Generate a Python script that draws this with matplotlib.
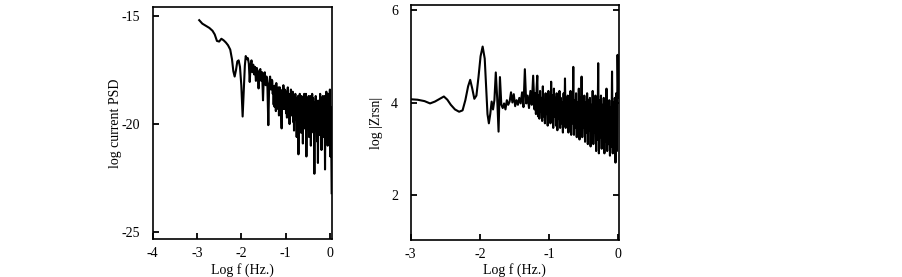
import numpy as np
import matplotlib
matplotlib.use('Agg')
import matplotlib.pyplot as plt

plt.rcParams['font.family'] = ['Liberation Serif', 'DejaVu Serif']
plt.rcParams['axes.unicode_minus'] = False

# left panel: log current PSD vs log f (low-frequency part)
psd_x_low = [-2.95, -2.88, -2.80, -2.72, -2.65, -2.60, -2.55, -2.50, -2.45, -2.40,
             -2.35, -2.30, -2.25, -2.21, -2.18, -2.15, -2.12, -2.09, -2.06, -2.03,
             -2.00, -1.97, -1.94, -1.92, -1.90, -1.87, -1.85, -1.83, -1.81, -1.79,
             -1.77, -1.75, -1.73, -1.71, -1.69, -1.67, -1.65, -1.63, -1.61, -1.59,
             -1.57, -1.55, -1.53, -1.51, -1.49, -1.47, -1.45, -1.43, -1.41, -1.39,
             -1.37, -1.35, -1.33, -1.31]
psd_y_low = [-15.19, -15.35, -15.45, -15.55, -15.68, -15.85, -16.15, -16.18, -16.05, -16.12,
             -16.22, -16.35, -16.55, -17.00, -17.55, -17.80, -17.50, -17.10, -17.05, -17.35,
             -18.20, -19.65, -18.30, -17.30, -16.85, -17.00, -16.95, -17.20, -18.05, -17.30,
             -17.05, -17.60, -17.25, -17.70, -17.35, -18.00, -17.40, -17.60, -18.35, -17.55,
             -17.45, -18.00, -17.60, -18.90, -17.70, -17.60, -18.20, -17.80, -18.30, -20.05,
             -18.10, -17.80, -18.40, -17.95]

# left panel, noisy high-frequency part
psd_x_high = [-1.30, -1.29, -1.28, -1.27, -1.26, -1.25, -1.24, -1.23, -1.22, -1.21,
              -1.20, -1.19, -1.18, -1.17, -1.16, -1.15, -1.14, -1.13, -1.12, -1.11,
              -1.10, -1.09, -1.08, -1.07, -1.06, -1.05, -1.04, -1.03, -1.02, -1.01,
              -1.00, -0.99, -0.98, -0.97, -0.96, -0.95, -0.94, -0.93, -0.92, -0.91,
              -0.90, -0.89, -0.88, -0.87, -0.86, -0.85, -0.84, -0.83, -0.82, -0.81,
              -0.80, -0.79, -0.78, -0.77, -0.76, -0.75, -0.74, -0.73, -0.72, -0.71,
              -0.70, -0.69, -0.68, -0.67, -0.66, -0.65, -0.64, -0.63, -0.62, -0.61,
              -0.60, -0.59, -0.58, -0.57, -0.56, -0.55, -0.54, -0.53, -0.52, -0.51,
              -0.50, -0.49, -0.48, -0.47, -0.46, -0.45, -0.44, -0.43, -0.42, -0.41,
              -0.40, -0.39, -0.38, -0.37, -0.36, -0.35, -0.34, -0.33, -0.32, -0.31,
              -0.30, -0.29, -0.28, -0.27, -0.26, -0.25, -0.24, -0.23, -0.22, -0.21,
              -0.20, -0.19, -0.18, -0.17, -0.16, -0.15, -0.14, -0.13, -0.12, -0.11,
              -0.10, -0.09, -0.08, -0.07, -0.06, -0.05, -0.04, -0.03, -0.02, -0.01,
              0.00, 0.01, 0.02, 0.03, 0.04]
psd_y_high = [-18.00, -18.60, -18.25, -19.10, -18.30, -19.20, -18.40, -18.20, -19.40, -18.10,
              -18.90, -19.00, -18.40, -19.30, -18.30, -19.60, -18.50, -18.30, -19.20, -18.60,
              -19.40, -20.20, -18.50, -18.40, -19.30, -18.20, -19.00, -19.30, -18.40, -19.10,
              -18.80, -19.50, -18.50, -19.70, -18.60, -18.30, -19.60, -18.70, -19.20, -20.00,
              -18.60, -19.30, -18.40, -19.60, -18.70, -19.50, -18.50, -19.90, -18.80, -20.30,
              -18.70, -19.40, -18.60, -19.80, -18.90, -20.60, -18.80, -19.70, -18.70, -21.40,
              -19.00, -19.80, -18.60, -20.10, -18.80, -20.40, -18.70, -19.60, -18.90, -20.90,
              -18.80, -19.70, -18.60, -20.20, -18.90, -19.80, -18.60, -21.50, -19.00, -20.00,
              -18.80, -19.90, -18.70, -20.60, -18.90, -19.80, -18.70, -21.00, -19.10, -20.10,
              -18.60, -19.90, -18.80, -20.40, -19.00, -22.30, -19.20, -20.00, -18.70, -20.30,
              -18.90, -20.80, -19.10, -21.80, -19.00, -20.10, -18.90, -20.50, -18.60, -20.00,
              -18.80, -21.20, -19.00, -20.30, -18.70, -20.60, -19.10, -20.00, -18.70, -22.10,
              -19.20, -20.40, -18.50, -20.80, -18.90, -21.00, -18.60, -20.40, -19.00, -20.70,
              -18.40, -21.50, -19.20, -20.80, -23.20]

# right panel: log |Zrsn| vs log f (low-frequency part)
z_x_low = [-3.00, -2.90, -2.80, -2.72, -2.65, -2.58, -2.52, -2.47, -2.42, -2.36,
           -2.30, -2.25, -2.21, -2.17, -2.14, -2.11, -2.08, -2.05, -2.02, -1.99,
           -1.96, -1.93, -1.91, -1.89, -1.87, -1.85, -1.83, -1.81, -1.79, -1.77,
           -1.75, -1.73, -1.71, -1.69, -1.67, -1.65, -1.63, -1.61, -1.59, -1.57,
           -1.55, -1.53, -1.51, -1.49, -1.47, -1.45, -1.43, -1.41, -1.39, -1.37,
           -1.35, -1.33, -1.31, -1.29, -1.27, -1.25, -1.23, -1.21]
z_y_low = [4.07, 4.06, 4.03, 3.98, 4.02, 4.08, 4.13, 4.06, 3.95, 3.85,
           3.80, 3.83, 4.05, 4.35, 4.49, 4.30, 4.08, 4.15, 4.55, 5.00,
           5.21, 4.95, 4.35, 3.75, 3.55, 3.75, 4.02, 3.85, 4.05, 4.65,
           4.10, 3.37, 4.55, 3.95, 3.88, 3.98, 3.85, 4.05, 3.95, 4.02,
           4.22, 4.00, 4.18, 3.92, 4.05, 3.95, 4.10, 3.98, 4.22, 3.90,
           4.72, 3.98, 4.15, 3.88, 4.25, 3.95, 4.58, 3.85]

# right panel, noisy high-frequency part
z_x_high = [-1.20, -1.19, -1.18, -1.17, -1.16, -1.15, -1.14, -1.13, -1.12, -1.11,
            -1.10, -1.09, -1.08, -1.07, -1.06, -1.05, -1.04, -1.03, -1.02, -1.01,
            -1.00, -0.99, -0.98, -0.97, -0.96, -0.95, -0.94, -0.93, -0.92, -0.91,
            -0.90, -0.89, -0.88, -0.87, -0.86, -0.85, -0.84, -0.83, -0.82, -0.81,
            -0.80, -0.79, -0.78, -0.77, -0.76, -0.75, -0.74, -0.73, -0.72, -0.71,
            -0.70, -0.69, -0.68, -0.67, -0.66, -0.65, -0.64, -0.63, -0.62, -0.61,
            -0.60, -0.59, -0.58, -0.57, -0.56, -0.55, -0.54, -0.53, -0.52, -0.51,
            -0.50, -0.49, -0.48, -0.47, -0.46, -0.45, -0.44, -0.43, -0.42, -0.41,
            -0.40, -0.39, -0.38, -0.37, -0.36, -0.35, -0.34, -0.33, -0.32, -0.31,
            -0.30, -0.29, -0.28, -0.27, -0.26, -0.25, -0.24, -0.23, -0.22, -0.21,
            -0.20, -0.19, -0.18, -0.17, -0.16, -0.15, -0.14, -0.13, -0.12, -0.11,
            -0.10, -0.09, -0.08, -0.07, -0.06, -0.05, -0.04, -0.03, -0.02, -0.01,
            0.00]
z_y_high = [4.20, 3.75, 4.30, 4.58, 3.70, 4.15, 3.65, 4.25, 3.80, 4.10,
            3.60, 4.35, 3.70, 4.05, 3.55, 4.20, 3.75, 4.15, 3.50, 4.25,
            3.65, 4.05, 3.55, 4.45, 3.60, 4.15, 3.45, 4.30, 3.70, 4.10,
            3.50, 4.20, 3.40, 4.05, 3.65, 4.25, 3.45, 4.10, 3.55, 4.00,
            3.35, 4.20, 3.50, 4.52, 3.45, 4.10, 3.60, 4.15, 3.35, 4.05,
            3.50, 4.25, 3.30, 4.10, 3.55, 4.77, 3.30, 4.05, 3.45, 4.20,
            3.25, 4.00, 3.50, 4.30, 3.20, 4.10, 3.40, 4.56, 3.25, 4.05,
            3.45, 4.15, 3.15, 4.00, 3.35, 4.20, 3.10, 4.05, 3.40, 4.10,
            3.05, 3.95, 3.30, 4.25, 3.10, 4.00, 3.35, 4.15, 2.95, 3.90,
            3.20, 4.85, 2.90, 4.05, 3.25, 4.15, 3.00, 3.95, 3.20, 4.10,
            2.90, 4.00, 3.15, 4.30, 2.95, 3.95, 3.10, 4.05, 2.85, 3.90,
            3.05, 4.67, 2.90, 4.00, 3.10, 4.10, 2.70, 4.20, 2.95, 5.03,
            4.10]

fig = plt.figure(figsize=(9.02, 2.77), dpi=100)
ax1 = fig.add_axes([0.1693, 0.1372, 0.1984, 0.8375])
ax2 = fig.add_axes([0.4553, 0.1336, 0.2309, 0.8483])

ax1.plot(psd_x_low + psd_x_high, psd_y_low + psd_y_high, color='black', linewidth=1.5)
ax1.set_xlim(-4, 0.04)
ax1.set_ylim(-25.32, -14.58)
ax1.set_xticks([-4, -3, -2, -1, 0])
ax1.set_yticks([-15, -20, -25])
ax1.set_xlabel('Log f (Hz.)', fontsize=10, labelpad=2)
ax1.set_ylabel('log current PSD', fontsize=10, labelpad=0)

ax2.plot(z_x_low + z_x_high, z_y_low + z_y_high, color='black', linewidth=1.5)
ax2.set_xlim(-3, 0.01)
ax2.set_ylim(1.027, 6.108)
ax2.set_xticks([-3, -2, -1, 0])
ax2.set_yticks([2, 4, 6])
ax2.set_xlabel('Log f (Hz.)', fontsize=10, labelpad=1)
ax2.set_ylabel('log |Zrsn|', fontsize=10, labelpad=6)

for ax in (ax1, ax2):
    for s in ax.spines.values():
        s.set_linewidth(1.2)
    ax.tick_params(direction='in', length=4, width=1.3, labelsize=10)
    ax.tick_params(axis='x', pad=6)
    ax.tick_params(axis='y', pad=9)
ax2.tick_params(axis='y', right=True)

plt.savefig('out.png', dpi=100)
